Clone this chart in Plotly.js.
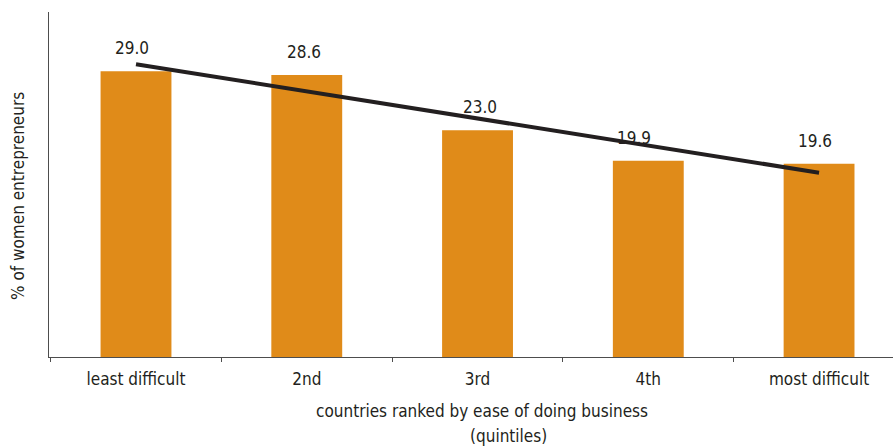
<!DOCTYPE html>
<html>
<head>
<meta charset="utf-8">
<script src="https://cdn.plot.ly/plotly-3.0.1.min.js"></script>
<style>html,body{margin:0;padding:0;background:#fff;}</style>
</head>
<body>
<div id="chart" style="width:895px;height:448px;"></div>
<script>
const categories = ["least difficult", "2nd", "3rd", "4th", "most difficult"];
const shares = [29.0, 28.6, 23.0, 19.9, 19.6];
const labels = ["29.0", "28.6", "23.0", "19.9", "19.6"];
const trendX = ["least difficult", "most difficult"];
const trendY = [29.7, 18.7];
const labelShift = [-4, -3, 2, -14, -4];

const FONT = "'Liberation Sans Narrow', 'DejaVu Sans Condensed', 'Arial Narrow', sans-serif";
const TXT = "#231F20";

const bars = {
  type: "bar",
  x: categories,
  y: shares,
  width: 0.415,
  marker: {color: "#E08B19", line: {width: 0}},
  hoverinfo: "skip",
  showlegend: false
};
const trend = {
  type: "scatter",
  mode: "lines",
  x: trendX,
  y: trendY,
  line: {color: "#231F20", width: 4},
  hoverinfo: "skip",
  showlegend: false
};

const annotations = categories.map((c, i) => ({
  x: c, y: shares[i], xref: "x", yref: "y",
  text: labels[i], showarrow: false,
  yanchor: "middle", yshift: 23, xshift: labelShift[i],
  font: {family: FONT, size: 17, color: TXT}
}));

const layout = {
  width: 895, height: 448,
  margin: {l: 49, r: 2, t: 12, b: 91, pad: 0},
  paper_bgcolor: "#fff", plot_bgcolor: "#fff",
  bargap: 0.585,
  font: {family: FONT, size: 17, color: TXT},
  xaxis: {
    type: "category",
    range: [-0.5095, 4.433],
    showline: true, linecolor: "#4d4d4d", linewidth: 1,
    ticks: "outside", tickson: "boundaries", ticklen: 4, tickcolor: "#4d4d4d",
    ticklabelstandoff: 7,
    showgrid: false, zeroline: false,
    tickfont: {family: FONT, size: 17, color: TXT},
    fixedrange: true
  },
  yaxis: {
    range: [0, 35],
    showline: true, linecolor: "#4d4d4d", linewidth: 1,
    ticks: "", showticklabels: false, showgrid: false, zeroline: false,
    fixedrange: true
  },
  annotations: annotations.concat([
    {xref: "paper", yref: "paper", x: (482 - 49) / 844, y: -(411 - 357) / 345,
     text: "countries ranked by ease of doing business", showarrow: false,
     xanchor: "center", yanchor: "middle", font: {family: FONT, size: 17, color: TXT}},
    {xref: "paper", yref: "paper", x: (509 - 49) / 844, y: -(436 - 357) / 345,
     text: "(quintiles)", showarrow: false,
     xanchor: "center", yanchor: "middle", font: {family: FONT, size: 17, color: TXT}},
    {xref: "paper", yref: "paper", x: (18 - 49) / 844, y: (357 - 196) / 345,
     text: "% of women entrepreneurs", showarrow: false, textangle: -90,
     xanchor: "center", yanchor: "middle", font: {family: FONT, size: 17, color: TXT}}
  ])
};

Plotly.newPlot("chart", [bars, trend], layout, {displayModeBar: false, staticPlot: true});
</script>
</body>
</html>
